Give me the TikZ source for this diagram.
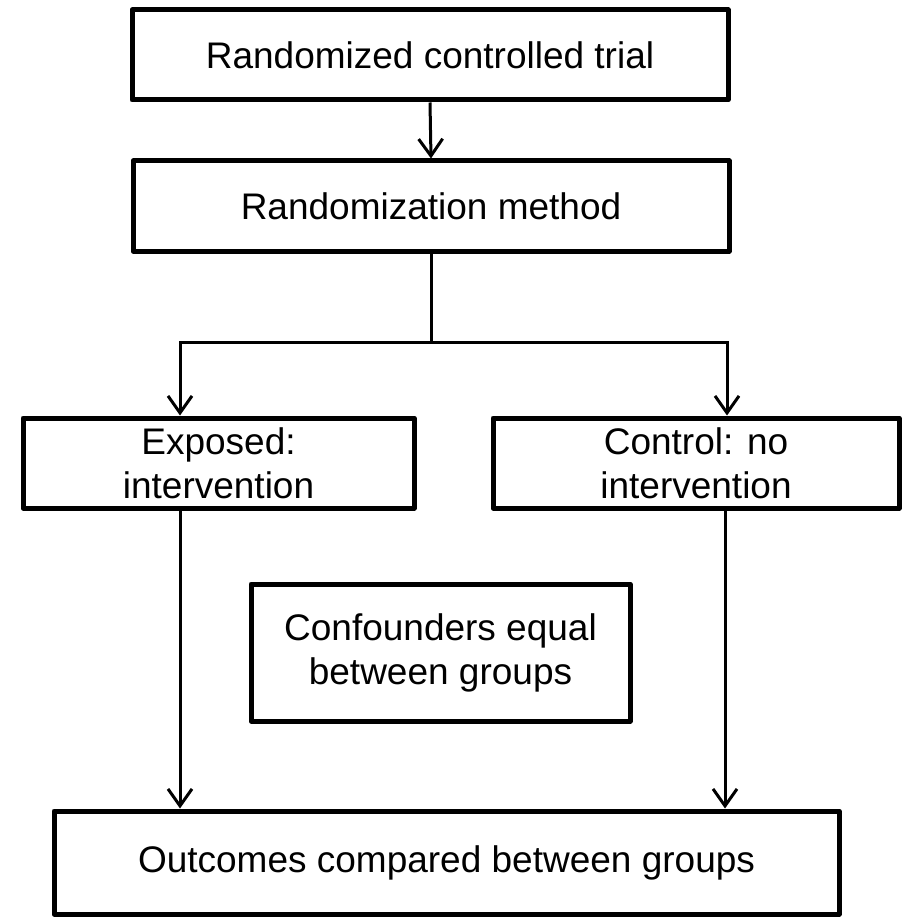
\documentclass[tikz,border=0pt]{standalone}
\usepackage{fontspec}
\setmainfont{Liberation Sans}
\usetikzlibrary{arrows.meta}
\tikzset{
  box/.style={draw, line width=5pt, line join=round, inner sep=0pt, align=center,
    font=\fontsize{37}{44}\selectfont, fill=white},
  conn/.style={line width=3pt},
  arr/.style={conn, -{Straight Barb[length=17pt,width=24pt]}}
}
\begin{document}
\begin{tikzpicture}[x=1pt,y=-1pt]
\useasboundingbox (0,0) rectangle (904,917);
\node[box, minimum width=596pt, minimum height=90pt] (b1) at (430,55) {Randomized controlled trial};
\node[box, minimum width=596pt, minimum height=90pt] (b2) at (431,206) {Randomization method};
\node[box, minimum width=391pt, minimum height=90pt] (b3) at (218.5,463) {Exposed:\\intervention};
\node[box, minimum width=406pt, minimum height=90pt] (b4) at (696,463) {Control: no\\intervention};
\node[box, minimum width=379pt, minimum height=137pt] (b5) at (440.5,652.5) {Confounders equal\\between groups};
\node[box, minimum width=785pt, minimum height=103pt] (b6) at (446.5,862.5) {Outcomes compared between groups};
\coordinate (j) at (431,342);
\coordinate (jl) at (180,342);
\coordinate (jr) at (727,342);
\coordinate (dl) at (180,508);
\coordinate (dr) at (725,508);
\draw[arr] (b1.south) -- (b2.north);
\draw[conn] (b2.south) -- (j);
\draw[conn, line cap=rect] (jl) -- (jr);
\draw[arr] (jl) -- (jl |- b3.north);
\draw[arr] (jr) -- (jr |- b4.north);
\draw[arr] (dl) -- (dl |- b6.north);
\draw[arr] (dr) -- (dr |- b6.north);
\end{tikzpicture}
\end{document}
